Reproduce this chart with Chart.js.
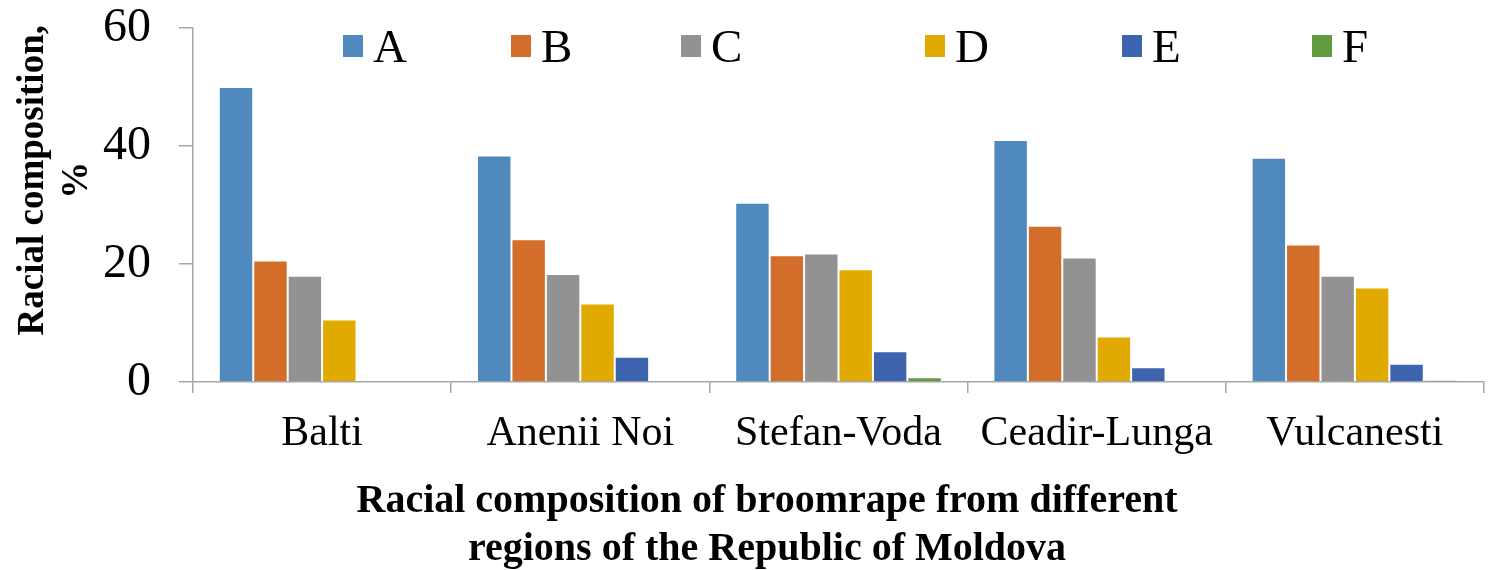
<!DOCTYPE html>
<html>
<head>
<meta charset="utf-8">
<script src="https://cdn.jsdelivr.net/npm/chart.js@4/dist/chart.umd.min.js"></script>
<style>
  html, body { margin: 0; padding: 0; background: #fff; }
  #wrap { width: 1498px; height: 570px; position: relative; }
</style>
</head>
<body>
<div id="wrap"><canvas id="c"></canvas></div>
<script>
// Regions of Moldova (x categories)
const regions = ['Balti', 'Anenii Noi', 'Stefan-Voda', 'Ceadir-Lunga', 'Vulcanesti'];

// Share of each broomrape race, %
const raceA = [50.0, 38.4, 30.4, 41.0, 38.0];
const raceB = [20.6, 24.2, 21.5, 26.5, 23.3];
const raceC = [18.0, 18.3, 21.8, 21.1, 18.0];
const raceD = [10.6, 13.3, 19.1, 7.7, 16.0];
const raceE = [0, 4.3, 5.2, 2.5, 3.1];
const raceF = [0, 0, 0.8, 0, 0.3];

const raceNames = ['A', 'B', 'C', 'D', 'E', 'F'];
const raceValues = [raceA, raceB, raceC, raceD, raceE, raceF];
const raceColors = ['#4F89BD', '#D26D2A', '#929292', '#E1AA00', '#3D64AE', '#629A3F'];

const yTicks = [0, 20, 40, 60];

const yTitle = ['Racial composition,', '%'];
const xTitle = ['Racial composition of broomrape from different', 'regions of the Republic of Moldova'];

const SERIF = '"Liberation Serif", "Times New Roman", serif';
const AXIS_GREY = '#A6A6A6';

// Legend entries sit inside the top of the plot, left edge of each swatch
const legendSwatchX = [343, 511, 681, 925, 1122, 1312];

const titlesPlugin = {
  id: 'axisTitles',
  afterDraw(chart) {
    const ctx = chart.ctx;
    const area = chart.chartArea;
    ctx.save();
    ctx.fillStyle = '#000';
    ctx.font = 'bold 37px ' + SERIF;
    ctx.textAlign = 'center';
    ctx.textBaseline = 'alphabetic';
    // vertical title, two lines
    const yMid = area.top + (area.bottom - area.top) * 0.43;
    const baselines = [43, 87];
    yTitle.forEach((line, i) => {
      ctx.save();
      ctx.translate(baselines[i], yMid);
      ctx.rotate(-Math.PI / 2);
      ctx.fillText(line, 0, 0);
      ctx.restore();
    });
    // horizontal title below the category labels
    ctx.font = 'bold 40px ' + SERIF;
    const xMid = 767;
    xTitle.forEach((line, i) => {
      ctx.fillText(line, xMid, 512 + i * 48);
    });
    ctx.restore();
  }
};

const legendPlugin = {
  id: 'insideLegend',
  afterDraw(chart) {
    const ctx = chart.ctx;
    ctx.save();
    ctx.font = '47px ' + SERIF;
    ctx.textAlign = 'left';
    ctx.textBaseline = 'alphabetic';
    chart.data.datasets.forEach((ds, i) => {
      const x = legendSwatchX[i];
      ctx.fillStyle = ds.backgroundColor;
      ctx.fillRect(x, 35, 20, 22);
      ctx.fillStyle = '#000';
      ctx.fillText(ds.label, x + 30, 62);
    });
    ctx.restore();
  }
};

new Chart(document.getElementById('c'), {
  type: 'bar',
  data: {
    labels: regions,
    datasets: raceNames.map((name, i) => ({
      label: name,
      data: raceValues[i],
      backgroundColor: raceColors[i],
      borderColor: 'rgba(255,255,255,0.85)',
      borderWidth: 1,
      categoryPercentage: 0.8,
      barPercentage: 1.0
    }))
  },
  options: {
    responsive: true,
    maintainAspectRatio: false,
    devicePixelRatio: 1,
    animation: false,
    layout: { padding: { left: 100, right: 14, top: 0, bottom: 108 } },
    plugins: {
      legend: { display: false },
      tooltip: { enabled: false },
      title: { display: false }
    },
    scales: {
      x: {
        afterFit(scale) { scale.height = 80; },
        grid: {
          display: true,
          drawOnChartArea: false,
          drawTicks: true,
          tickLength: 11,
          color: AXIS_GREY,
          lineWidth: 1.5,
          offset: true
        },
        border: { display: true, color: AXIS_GREY, width: 1.5 },
        ticks: {
          color: '#000',
          font: { family: SERIF, size: 42 },
          padding: 16,
          maxRotation: 0,
          autoSkip: false
        }
      },
      y: {
        min: 0,
        max: 60,
        afterFit(scale) { scale.width = 93; scale.paddingTop = 28; },
        afterBuildTicks(scale) { scale.ticks = yTicks.map(v => ({ value: v })); },
        grid: {
          display: true,
          drawOnChartArea: false,
          drawTicks: true,
          tickLength: 14,
          color: AXIS_GREY,
          lineWidth: 1.5
        },
        border: { display: true, color: AXIS_GREY, width: 1.5 },
        ticks: {
          color: '#000',
          font: { family: SERIF, size: 48 },
          padding: 28
        }
      }
    }
  },
  plugins: [titlesPlugin, legendPlugin]
});
</script>
</body>
</html>
